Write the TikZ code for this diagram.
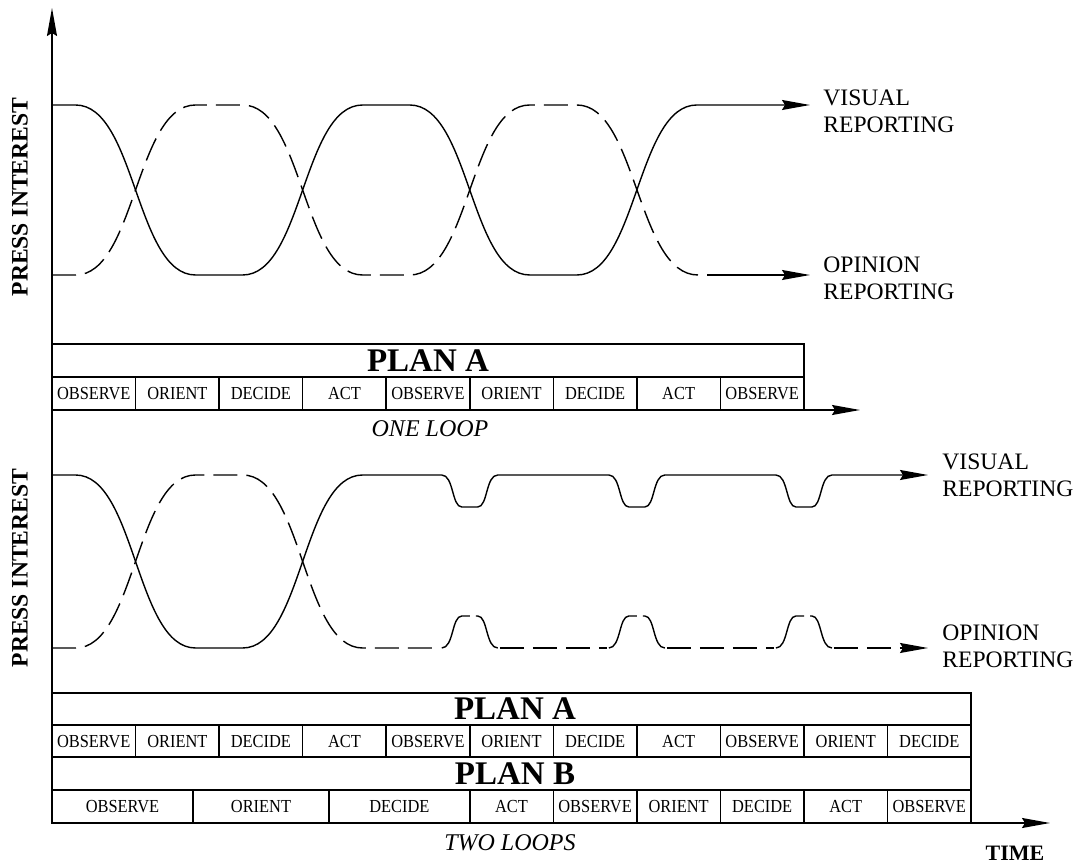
\documentclass[tikz,border=0pt]{standalone}
\usepackage{fontspec}
\setmainfont{Liberation Serif}
\usetikzlibrary{arrows.meta}
\begin{document}
\begin{tikzpicture}[x=0.5pt,y=-0.5pt,
  curve/.style={line width=0.7pt},
  dcurve/.style={line width=0.7pt, dash pattern=on 12pt off 4.5pt},
  bump/.style={line width=0.7pt, dash pattern=on 24pt off 3pt},
  tbl/.style={line width=0.8pt},
  arr/.style={-{Stealth[length=14pt,width=5pt,inset=1.5pt]}},
  cellt/.style={font=\fontsize{8.2}{9}\selectfont, inner sep=0pt},
  plan/.style={font=\fontsize{16.5}{18}\selectfont\bfseries, inner sep=0pt},
  lab/.style={font=\fontsize{11.8}{13.5}\selectfont, align=left, anchor=west, inner sep=0pt},
  axlab/.style={font=\fontsize{11.8}{13.5}\selectfont\bfseries, rotate=90, inner sep=0pt},
  loop/.style={font=\fontsize{12}{13.5}\selectfont\itshape, inner sep=0pt}]
\useasboundingbox (0,0) rectangle (1078,865);
\newcommand{\cx}[1]{\scalebox{1}[1.12]{#1}}

% ---------- axes ----------
\coordinate (O) at (52,823);
\coordinate (Ytip) at (52,8);
\coordinate (T1) at (52,410);
\coordinate (T1tip) at (860,410);
\coordinate (Xtip) at (1050,823);
\draw[tbl,arr] (O) -- (Ytip);
\draw[tbl,arr] (T1) -- (T1tip);
\draw[tbl,arr] (O) -- (Xtip);

\node[axlab] (pi1) at (20,197) {PRESS INTEREST};
\node[axlab] (pi2) at (20,568) {PRESS INTEREST};

% ---------- top curves ----------
\coordinate (v1end) at (810,105);
\coordinate (o1end) at (810,275);
\draw[curve,arr] (52,105) -- (75.55,105)
  .. controls (135.55,105) and (135.55,275) .. (195.55,275) -- (242.65,275)
  .. controls (302.65,275) and (302.65,105) .. (362.65,105) -- (409.75,105)
  .. controls (469.75,105) and (469.75,275) .. (529.75,275) -- (576.85,275)
  .. controls (636.85,275) and (636.85,105) .. (696.85,105) -- (v1end);
\draw[dcurve] (52,275) -- (75.55,275)
  .. controls (135.55,275) and (135.55,105) .. (195.55,105) -- (242.65,105)
  .. controls (302.65,105) and (302.65,275) .. (362.65,275) -- (409.75,275)
  .. controls (469.75,275) and (469.75,105) .. (529.75,105) -- (576.85,105)
  .. controls (636.85,105) and (636.85,275) .. (698,275);
\draw[curve,arr] (707,275) -- (o1end);
\node[lab] (vr1) at (823,111.5) {VISUAL\\REPORTING};
\node[lab] (or1) at (823,278.5) {OPINION\\REPORTING};

% ---------- top table ----------
\draw[tbl] (52,344) rectangle (803.95,410);
\draw[tbl] (52,377) -- (803.95,377);
\foreach \k in {1,...,8}{\draw[tbl] ({52+83.55*\k},377) -- ({52+83.55*\k},410);}
\node[plan] (planA1) at (428,361) {PLAN A};
\foreach \t [count=\k from 0] in {OBSERVE,ORIENT,DECIDE,ACT,OBSERVE,ORIENT,DECIDE,ACT,OBSERVE}
  {\node[cellt] (ta\k) at ({52+83.55*(\k+0.5)},394) {\cx{\t}};}
\node[loop] (oneloop) at (430,429) {ONE LOOP};

% ---------- bottom curves ----------
\coordinate (v2end) at (928,475);
\coordinate (o2end) at (928,648);
\draw[curve,arr] (52,475) -- (75.55,475)
  .. controls (135.55,475) and (135.55,648) .. (195.55,648) -- (242.65,648)
  .. controls (302.65,648) and (302.65,475) .. (362.65,475)
  \foreach \c in {469.75,636.85,803.95}{
   -- ({\c-28},475) .. controls ({\c-16},475) and ({\c-18},507) .. ({\c-8},507)
   -- ({\c+8},507) .. controls ({\c+18},507) and ({\c+16},475) .. ({\c+28},475)}
  -- (v2end);
% opinion (dashed) with bumps
\draw[dcurve] (52,648) -- (75.55,648)
  .. controls (135.55,648) and (135.55,475) .. (195.55,475) -- (242.65,475)
  .. controls (302.65,475) and (302.65,648) .. (362.65,648) -- (439.75,648);
\draw[dcurve] (499.75,648) -- (606.85,648);
\draw[dcurve] (666.85,648) -- (773.95,648);
\draw[dcurve,arr] (833.95,648) -- (o2end);
\foreach \c in {469.75,636.85,803.95}{
  \draw[bump] ({\c-28},648) .. controls ({\c-16},648) and ({\c-18},616) .. ({\c-8},616)
   -- ({\c+8},616) .. controls ({\c+18},616) and ({\c+16},648) .. ({\c+28},648);}
\node[lab] (vr2) at (942,475) {VISUAL\\REPORTING};
\node[lab] (or2) at (942,646.5) {OPINION\\REPORTING};

% ---------- bottom tables ----------
\draw[tbl] (52,693) rectangle (971.05,823);
\foreach \y in {725,757,790}{\draw[tbl] (52,\y) -- (971.05,\y);}
\foreach \k in {1,...,10}{\draw[tbl] ({52+83.55*\k},725) -- ({52+83.55*\k},757);}
\foreach \x in {193,329,469.75,553.3,636.85,720.4,803.95,887.5}{\draw[tbl] (\x,790) -- (\x,823);}
\node[plan] (planA2) at (515,709) {PLAN A};
\node[plan] (planB2) at (515,773.5) {PLAN B};
\foreach \t [count=\k from 0] in {OBSERVE,ORIENT,DECIDE,ACT,OBSERVE,ORIENT,DECIDE,ACT,OBSERVE,ORIENT,DECIDE}
  {\node[cellt] (ba\k) at ({52+83.55*(\k+0.5)},741.5) {\cx{\t}};}
\foreach \t/\x [count=\k] in {OBSERVE/122.5,ORIENT/261,DECIDE/399.4,ACT/511.5,OBSERVE/595.1,ORIENT/678.6,DECIDE/762.2,ACT/845.7,OBSERVE/929.3}
  {\node[cellt] (bb\k) at (\x,807) {\cx{\t}};}
\node[loop] (twoloops) at (510,843) {TWO LOOPS};
\node[font=\fontsize{11}{13}\selectfont\bfseries, inner sep=0pt] (time) at (1015,853) {TIME};
\end{tikzpicture}
\end{document}
